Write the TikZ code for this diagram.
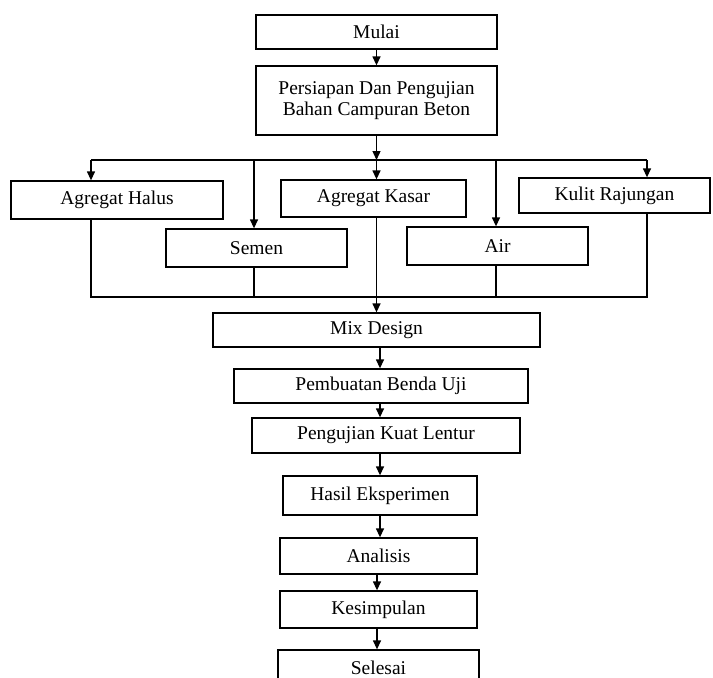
\documentclass[tikz,border=0pt]{standalone}
\usepackage{fontspec}
\setmainfont{Liberation Serif}
\usetikzlibrary{arrows.meta}
\begin{document}
\begin{tikzpicture}[x=1pt,y=-1pt,
  box/.style={draw, rectangle, line width=1.3pt, inner sep=0pt, align=center, font=\fontsize{19.5}{21}\selectfont},
  arr/.style={-{Triangle[length=9pt,width=8pt]}, line width=1.3pt},
  ln/.style={line width=1.3pt}]
\clip (0,0) rectangle (713,678);
\node[box, minimum width=241, minimum height=34] (mulai) at (376.5,32) {Mulai};
\node[box, minimum width=241, minimum height=69] (persiapan) at (376.5,100.5) {Persiapan Dan Pengujian\\Bahan Campuran Beton};
\node[box, minimum width=212, minimum height=38] (halus) at (117,200) {Agregat Halus};
\node[box, minimum width=181, minimum height=38] (semen) at (256.5,248) {Semen};
\node[box, minimum width=185, minimum height=37] (kasar) at (373.5,198.5) {Agregat Kasar};
\node[box, minimum width=181, minimum height=38] (air) at (497.5,246) {Air};
\node[box, minimum width=191, minimum height=35] (kulit) at (614.5,195.5) {Kulit Rajungan};
\node[box, minimum width=327, minimum height=34] (mix) at (376.5,330) {Mix Design};
\node[box, minimum width=294, minimum height=34] (pembuatan) at (381,386) {Pembuatan Benda Uji};
\node[box, minimum width=268, minimum height=35] (pengujian) at (386,435.5) {Pengujian Kuat Lentur};
\node[box, minimum width=194, minimum height=39] (hasil) at (380,495.5) {Hasil Eksperimen};
\node[box, minimum width=197, minimum height=36] (analisis) at (378.5,556) {Analisis};
\node[box, minimum width=197, minimum height=37] (kesimpulan) at (378.5,609.5) {Kesimpulan};
\node[box, minimum width=201, minimum height=36] (selesai) at (378.5,668) {Selesai};
% branch line
\coordinate (split) at (376.5,160);
\coordinate (s1) at (91,160);
\coordinate (s2) at (254,160);
\coordinate (s4) at (496,160);
\coordinate (s5) at (647,160);
\draw[arr] (mulai) -- (persiapan);
\draw[arr] (persiapan) -- (split);
\draw[ln] (s1) -- (s5);
\draw[arr] (s1) -- (s1 |- halus.north);
\draw[arr] (s2) -- (s2 |- semen.north);
\draw[arr] (split) -- (split |- kasar.north);
\draw[arr] (s4) -- (s4 |- air.north);
\draw[arr] (s5) -- (s5 |- kulit.north);
% collector line
\coordinate (c1) at (91,297);
\coordinate (c5) at (647,297);
\draw[ln] (s1 |- halus.south) -- (c1) -- (c5) -- (s5 |- kulit.south);
\draw[ln] (s2 |- semen.south) -- (s2 |- c1);
\draw[ln] (s4 |- air.south) -- (s4 |- c1);
\draw[arr] (split |- kasar.south) -- (split |- mix.north);
% main column
\coordinate (m1) at (380,0);
\coordinate (m2) at (377,0);
\draw[arr] (mix.south -| m1) -- (pembuatan.north -| m1);
\draw[arr] (pembuatan.south -| m1) -- (pengujian.north -| m1);
\draw[arr] (pengujian.south -| m1) -- (hasil.north -| m1);
\draw[arr] (hasil.south -| m1) -- (analisis.north -| m1);
\draw[arr] (analisis.south -| m2) -- (kesimpulan.north -| m2);
\draw[arr] (kesimpulan.south -| m2) -- (selesai.north -| m2);
\end{tikzpicture}
\end{document}
